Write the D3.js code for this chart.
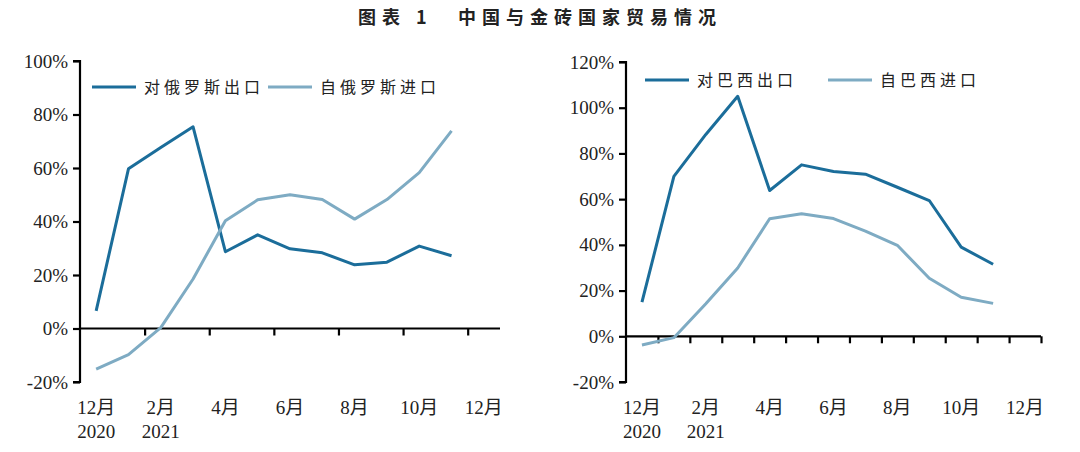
<!DOCTYPE html>
<html>
<head>
<meta charset="utf-8">
<script src="https://cdn.jsdelivr.net/npm/d3@7"></script>
<style>
  body { margin: 0; background: #fff; }
  text { fill: #222; }
</style>
</head>
<body>
<div id="chart"></div>
<script>
// months Dec 2020 .. Dec 2021 (13 slots, data runs to Nov)
let months = ["2020-12","2021-01","2021-02","2021-03","2021-04","2021-05","2021-06",
              "2021-07","2021-08","2021-09","2021-10","2021-11","2021-12"]
let monthLabels = ["12月","","2月","","4月","","6月","","8月","","10月","","12月"]
let yearLabels = ["2020","","2021","","","","","","","","","",""]

// 俄罗斯 (%)
let ruExport = [6.6, 59.7, 67.7, 75.4, 28.7, 35.0, 29.8, 28.3, 23.8, 24.8, 30.8, 27.2]
let ruImport = [-15.2, -9.8, 0.3, 18.5, 40.3, 48.1, 50.0, 48.2, 40.9, 48.2, 58.3, 73.9]
// 巴西 (%)
let brExport = [14.9, 70.0, 88.3, 105.0, 63.8, 75.0, 72.1, 70.9, 65.2, 59.4, 39.0, 31.5]
let brImport = [-3.8, -0.6, 14.2, 29.9, 51.4, 53.6, 51.5, 46.0, 39.8, 25.4, 17.1, 14.4]

let ruTicks = [-20, 0, 20, 40, 60, 80, 100]
let brTicks = [-20, 0, 20, 40, 60, 80, 100, 120]

let darkBlue = "#1b6d9a",
    lightBlue = "#7eabc3"

let svg = d3.select("#chart").append("svg")
    .attr("width", 1080)
    .attr("height", 452)

// title, two parts so the gap can be set
svg.append("text")
    .attr("x", 358)
    .attr("y", 24)
    .attr("font-family", "'Noto Sans CJK SC', sans-serif")
    .attr("font-weight", "bold")
    .attr("font-size", 18)
    .attr("letter-spacing", 6)
    .text("图表 1")
svg.append("text")
    .attr("x", 458)
    .attr("y", 24)
    .attr("font-family", "'Noto Sans CJK SC', sans-serif")
    .attr("font-weight", "bold")
    .attr("font-size", 18)
    .attr("letter-spacing", 6)
    .text("中国与金砖国家贸易情况")

function drawPanel(opt) {
  let g = svg.append("g")

  let x = d3.scaleBand()
      .domain(months)
      .range([opt.left, opt.right])
  let xEdge = d3.scaleLinear()
      .domain([0, months.length])
      .range([opt.left, opt.right])
  let y = d3.scaleLinear()
      .domain([opt.ticks[0], opt.ticks[opt.ticks.length - 1]])
      .range([opt.bottom, opt.top])

  // y axis
  let yAxis = g.append("g")
      .attr("transform", "translate(" + opt.left + ",0)")
      .call(d3.axisLeft(y)
        .tickValues(opt.ticks)
        .tickSize(7)
        .tickPadding(5)
        .tickFormat(function(d) { return d + "%" }))
  yAxis.select(".domain").attr("stroke-width", 2.2).attr("d",
      "M-7," + y(opt.ticks[0]) + "H0V" + y(opt.ticks[opt.ticks.length - 1]) + "H-7")
  yAxis.selectAll(".tick line").attr("stroke-width", 2.2)
  yAxis.selectAll(".tick text")
      .attr("font-family", "'Liberation Serif', serif")
      .attr("font-size", 19)
      .attr("fill", "#222")

  // x axis at zero
  let xAxis = g.append("g")
      .attr("transform", "translate(0," + y(0) + ")")
      .call(d3.axisBottom(xEdge)
        .tickValues(opt.xTicks)
        .tickSize(7)
        .tickFormat(""))
  xAxis.select(".domain").attr("stroke-width", 2.2)
      .attr("d", "M" + opt.left + ",0H" + opt.right)
  xAxis.selectAll(".tick line").attr("stroke-width", 2.2)

  // month / year labels
  g.selectAll(".mlabel")
      .data(months)
    .enter().append("text")
      .attr("x", function(d) { return x(d) + x.bandwidth() / 2 })
      .attr("y", 414)
      .attr("text-anchor", "middle")
      .attr("font-family", "'Liberation Serif', 'Noto Sans CJK SC', serif")
      .attr("font-size", 19)
      .text(function(d, i) { return monthLabels[i] })
  g.selectAll(".ylabel")
      .data(months)
    .enter().append("text")
      .attr("x", function(d) { return x(d) + x.bandwidth() / 2 })
      .attr("y", 438)
      .attr("text-anchor", "middle")
      .attr("font-family", "'Liberation Serif', serif")
      .attr("font-size", 19)
      .text(function(d, i) { return yearLabels[i] })

  let line = d3.line()
      .x(function(d, i) { return x(months[i]) + x.bandwidth() / 2 })
      .y(function(d) { return y(d) })

  opt.series.forEach(function(s) {
    g.append("path")
        .datum(s.values)
        .attr("fill", "none")
        .attr("stroke", s.color)
        .attr("stroke-width", 3)
        .attr("stroke-linejoin", "round")
        .attr("d", line)
  })

  // legend
  opt.series.forEach(function(s, i) {
    let lx = opt.legendX[i]
    g.append("line")
        .attr("x1", lx).attr("x2", lx + 44)
        .attr("y1", opt.legendY).attr("y2", opt.legendY)
        .attr("stroke", s.color)
        .attr("stroke-width", 3)
    g.append("text")
        .attr("x", lx + 52)
        .attr("y", opt.legendY + 6)
        .attr("font-family", "'Noto Sans CJK SC', sans-serif")
        .attr("font-size", 16)
        .attr("letter-spacing", 4)
        .text(s.name)
  })
}

drawPanel({
  left: 80, right: 500, top: 61, bottom: 382,
  ticks: ruTicks,
  xTicks: [2, 4, 6, 8, 10, 12],
  legendY: 87, legendX: [92, 268],
  series: [
    {name: "对俄罗斯出口", values: ruExport, color: darkBlue},
    {name: "自俄罗斯进口", values: ruImport, color: lightBlue}
  ]
})

drawPanel({
  left: 626, right: 1041, top: 62, bottom: 382,
  ticks: brTicks,
  xTicks: d3.range(1, 14),
  legendY: 80, legendX: [645, 828],
  series: [
    {name: "对巴西出口", values: brExport, color: darkBlue},
    {name: "自巴西进口", values: brImport, color: lightBlue}
  ]
})
</script>
</body>
</html>
